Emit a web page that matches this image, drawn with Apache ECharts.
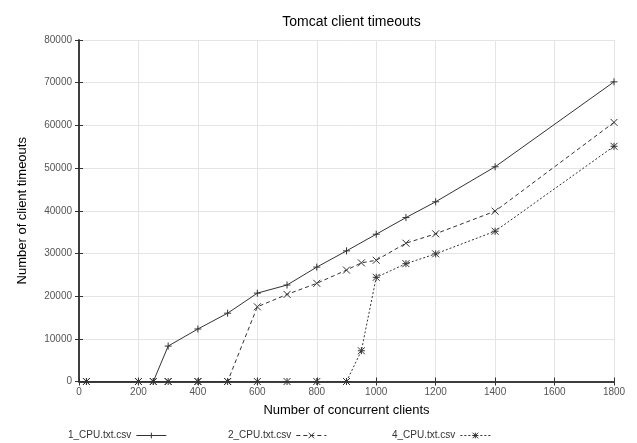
<!DOCTYPE html>
<html><head><meta charset="utf-8">
<script src="https://cdn.jsdelivr.net/npm/echarts@6/dist/echarts.min.js"></script>
<style>html,body{margin:0;padding:0;background:#fff}#c{width:637px;height:443px}</style>
</head><body><div id="c"></div>
<script>
const title = 'Tomcat client timeouts';
const xName = 'Number of concurrent clients';
const yName = 'Number of client timeouts';
const names = ['1_CPU.txt.csv', '2_CPU.txt.csv', '4_CPU.txt.csv'];
const x1 = [25, 200, 250, 300, 400, 500, 600, 700, 800, 900, 1000, 1100, 1200, 1400, 1800];
const y1 = [0, 0, 0, 8300, 12300, 16000, 20700, 22600, 26800, 30600, 34500, 38400, 42100, 50300, 70200];
const x2 = [25, 200, 250, 300, 400, 500, 600, 700, 800, 900, 950, 1000, 1100, 1200, 1400, 1800];
const y2 = [0, 0, 0, 0, 0, 0, 17500, 20400, 23000, 26100, 27800, 28400, 32400, 34600, 39900, 60700];
const x3 = [25, 200, 250, 300, 400, 500, 600, 700, 800, 900, 950, 1000, 1100, 1200, 1400, 1800];
const y3 = [0, 0, 0, 0, 0, 0, 0, 0, 0, 0, 7200, 24400, 27600, 29900, 35200, 55100];

const pair = (xs, ys) => xs.map((x, i) => [x, ys[i]]);
const plus = 'path://M0,5L10,5M5,0L5,10';
const cross = 'path://M0,0L10,10M0,10L10,0';
const star = 'path://M0,0L10,10M0,10L10,0M0,5L10,5M5,0L5,10';
const ink = '#333';
const font = 'Liberation Sans, Arial, sans-serif';
const plain = v => String(v);

function mkSeries(name, data, sym, dash) {
  return {
    name, type: 'line', data, symbol: sym, symbolSize: 7,
    lineStyle: { color: ink, width: 1, type: dash },
    itemStyle: { color: 'rgba(0,0,0,0)', borderColor: ink, borderWidth: 1 },
    emphasis: { disabled: true }, animation: false
  };
}
const legendLeft = [66, 226, 390];
const chart = echarts.init(document.getElementById('c'), null, { renderer: 'canvas' });
chart.setOption({
  backgroundColor: '#fff',
  animation: false,
  title: { text: title, left: 346.5, textAlign: 'center', top: 10,
    textStyle: { fontFamily: font, fontSize: 14, fontWeight: 'normal', color: '#000' } },
  grid: { left: 79, right: 23, top: 40, bottom: 61.5 },
  legend: names.map((n, i) => ({
    data: [n], left: legendLeft[i], top: 427, padding: 2, align: 'right', itemWidth: 30, itemHeight: 7,
    itemGap: 4, selectedMode: false,
    lineStyle: { width: 1 },
    itemStyle: { borderWidth: 1 },
    textStyle: { fontFamily: font, fontSize: 10, color: '#333', lineHeight: 13 }
  })),
  xAxis: [{
    type: 'value', min: 0, max: 1800, interval: 200,
    name: xName, nameLocation: 'middle', nameGap: 22,
    nameTextStyle: { fontFamily: font, fontSize: 13, color: '#000' },
    axisLine: { lineStyle: { color: ink, width: 1.5 } },
    axisTick: { inside: true, length: 4, lineStyle: { color: ink } },
    axisLabel: { fontFamily: font, fontSize: 10, color: '#555', margin: 6, formatter: plain },
    splitLine: { show: true, lineStyle: { color: '#e4e4e4', width: 1 } }
  }, {
    type: 'value', min: 0, max: 1800, interval: 200, position: 'top',
    axisLine: { show: true, lineStyle: { color: ink, width: 1.5 } },
    axisTick: { show: true, inside: true, length: 4, lineStyle: { color: ink } },
    axisLabel: { show: false }, splitLine: { show: false }
  }],
  yAxis: [{
    type: 'value', min: 0, max: 80000, interval: 10000,
    name: yName, nameLocation: 'middle', nameGap: 50, nameRotate: 90,
    nameTextStyle: { fontFamily: font, fontSize: 13, color: '#000' },
    axisLine: { show: true, lineStyle: { color: ink, width: 1.5 } },
    axisTick: { show: true, inside: true, length: 4, lineStyle: { color: ink } },
    axisLabel: { fontFamily: font, fontSize: 10, color: '#555', margin: 7, formatter: plain },
    splitLine: { show: true, lineStyle: { color: '#e4e4e4', width: 1 } }
  }, {
    type: 'value', min: 0, max: 80000, interval: 10000, position: 'right',
    axisLine: { show: true, lineStyle: { color: ink, width: 1.5 } },
    axisTick: { show: true, inside: true, length: 4, lineStyle: { color: ink } },
    axisLabel: { show: false }, splitLine: { show: false }
  }],
  series: [
    mkSeries(names[0], pair(x1, y1), plus, 'solid'),
    mkSeries(names[1], pair(x2, y2), cross, [4, 3]),
    mkSeries(names[2], pair(x3, y3), star, [2, 2])
  ]
});
</script></body></html>
